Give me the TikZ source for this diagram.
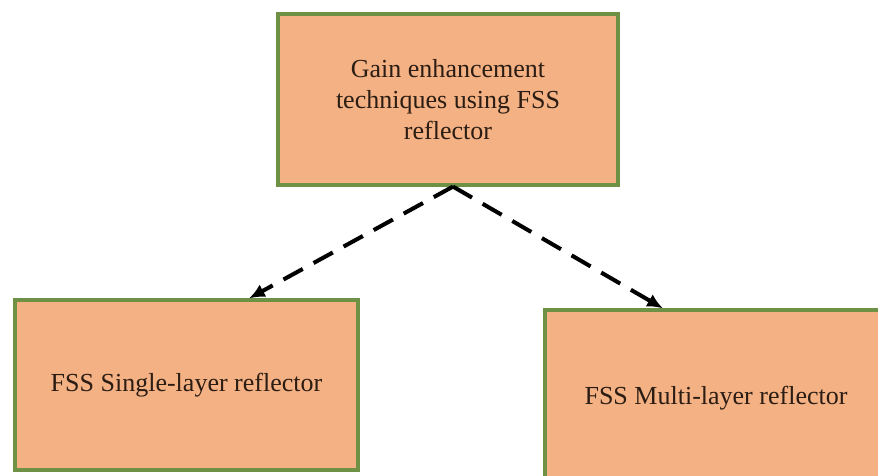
\documentclass[tikz,border=0pt]{standalone}
\usepackage{fontspec}
\setmainfont{Liberation Serif}
\usepackage{tikz}
\usetikzlibrary{arrows.meta,positioning,calc}
\definecolor{boxfill}{HTML}{F4B183}
\definecolor{boxline}{HTML}{6E9145}
\definecolor{textink}{HTML}{2B1D14}

\begin{document}
\begin{tikzpicture}[>={Latex[length=9pt,width=8pt]},
  techbox/.style={draw=boxline,line width=1.8pt,fill=boxfill,text=textink,
    minimum width=6.84cm,minimum height=3.42cm,align=center,inner sep=0pt,
    font=\fontsize{14.8}{17.6}\selectfont},
  link/.style={->,line width=2.3pt,dash pattern=on 12.5pt off 7pt}]
  \useasboundingbox (0,0) rectangle (17.56,-9.5);
  \clip (0,0) rectangle (17.56,-9.5);
  % Main technique on top, the two reflector kinds below.
  \node[techbox,minimum width=6.8cm] (gain) at (8.96,-1.99)
    {Gain enhancement\\techniques using FSS\\reflector};
  \node[techbox,minimum width=6.86cm,minimum height=3.4cm] (single) at (3.73,-7.7)
    {FSS Single-layer reflector};
  \node[techbox,minimum height=3.52cm] (multi) at (14.32,-7.96)
    {FSS Multi-layer reflector};
  \draw[link] ([xshift=0.1cm]gain.south) -- ([xshift=1.25cm]single.north);
  \draw[link] ([xshift=0.1cm]gain.south) -- ([xshift=-1.06cm]multi.north);
\end{tikzpicture}
\end{document}
